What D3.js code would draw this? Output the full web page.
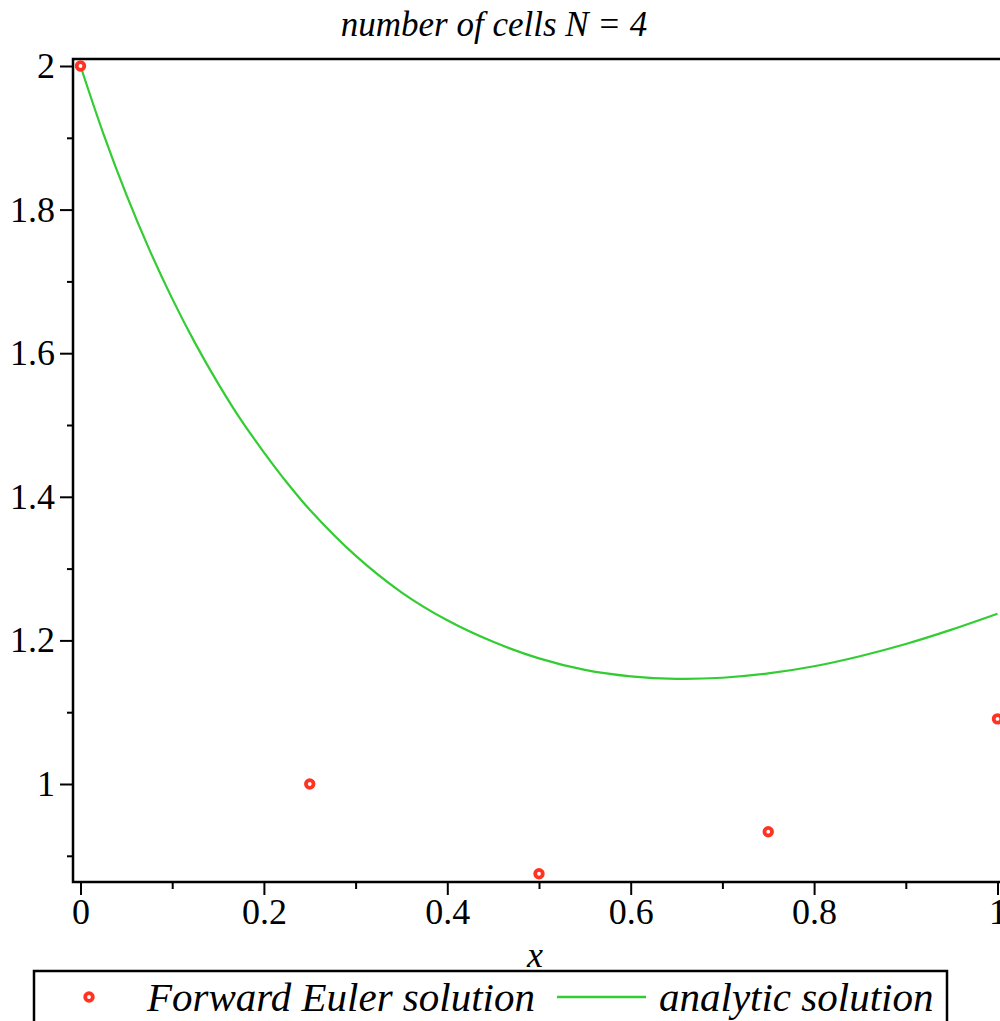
<!DOCTYPE html>
<html>
<head>
<meta charset="utf-8">
<script src="https://cdn.jsdelivr.net/npm/d3@7"></script>
<style>
  body { margin: 0; background: #fff; }
  text { font-family: "Liberation Serif", "Times New Roman", serif; fill: #000; }
</style>
</head>
<body>
<svg id="chart" width="1000" height="1021"></svg>
<script>
const titleText = "number of cells N = 4";
const xLabel = "x";

const eulerX = [0, 0.25, 0.5, 0.75, 1];
const eulerY = [2, 1.0, 0.875, 0.9336, 1.0907];

const exactX = [0, 0.025, 0.05, 0.075, 0.1, 0.125, 0.15, 0.175, 0.2, 0.225, 0.25, 0.3, 0.35, 0.4,
  0.45, 0.5, 0.55, 0.6, 0.65, 0.7, 0.75, 0.8, 0.85, 0.9, 0.95, 1];
const exactY = [2, 1.9055, 1.8208, 1.7446, 1.676, 1.614, 1.558, 1.507, 1.462, 1.420, 1.382, 1.318,
  1.267, 1.228, 1.198, 1.175, 1.159, 1.150, 1.1465, 1.148, 1.154, 1.164, 1.178, 1.195, 1.215, 1.237];

const xMajor = [0, 0.2, 0.4, 0.6, 0.8, 1];
const xMinor = [0.1, 0.3, 0.5, 0.7, 0.9];
const yMajor = [1, 1.2, 1.4, 1.6, 1.8, 2];
const yMinor = [0.9, 1.1, 1.3, 1.5, 1.7, 1.9];

const legendLabels = ["Forward Euler solution", "analytic solution"];

const red = "#ff3322";
const green = "#33cc33";

const frame = { left: 73, top: 59, bottom: 882, right: 1004 };

const svg = d3.select("#chart");

const x = d3.scaleLinear().domain([0, 1]).range([80.5, 997.5]);
const y = d3.scaleLinear().domain([1, 2]).range([784, 66]);

// title
svg.append("text")
  .attr("x", 494)
  .attr("y", 36)
  .attr("text-anchor", "middle")
  .style("font-style", "italic")
  .style("font-size", "35px")
  .text(titleText);

// axes
function addAxis(axis, transform) {
  const g = svg.append("g").attr("transform", transform).call(axis);
  g.select(".domain").remove();
  g.selectAll("line").attr("stroke", "#000").attr("stroke-width", 2);
  return g;
}

const xAxisMajor = addAxis(
  d3.axisBottom(x).tickValues(xMajor).tickSize(13).tickPadding(3).tickFormat(d3.format("")),
  `translate(0, ${frame.bottom})`);
xAxisMajor.selectAll("text").style("font-size", "36px").attr("font-family", null);

addAxis(d3.axisBottom(x).tickValues(xMinor).tickSize(7).tickFormat(""),
  `translate(0, ${frame.bottom})`);

const yAxisMajor = addAxis(
  d3.axisLeft(y).tickValues(yMajor).tickSize(13).tickPadding(5).tickFormat(d3.format("")),
  `translate(${frame.left}, 0)`);
yAxisMajor.selectAll("text").style("font-size", "36px").attr("font-family", null);

addAxis(d3.axisLeft(y).tickValues(yMinor).tickSize(6).tickFormat(""),
  `translate(${frame.left}, 0)`);

// frame
svg.append("path")
  .attr("d", `M${frame.right},${frame.top}H${frame.left}V${frame.bottom}H${frame.right}`)
  .attr("fill", "none")
  .attr("stroke", "#000")
  .attr("stroke-width", 2.5);

// x label
svg.append("text")
  .attr("x", 535)
  .attr("y", 967)
  .attr("text-anchor", "middle")
  .style("font-style", "italic")
  .style("font-size", "36px")
  .text(xLabel);

// analytic curve
const line = d3.line()
  .x(d => x(d[0]))
  .y(d => y(d[1]))
  .curve(d3.curveCatmullRom);

svg.append("path")
  .datum(d3.zip(exactX, exactY))
  .attr("d", line)
  .attr("fill", "none")
  .attr("stroke", green)
  .attr("stroke-width", 2.2);

// euler points
svg.selectAll("circle.euler")
  .data(d3.zip(eulerX, eulerY))
  .enter()
  .append("circle")
  .attr("class", "euler")
  .attr("cx", d => x(d[0]))
  .attr("cy", d => y(d[1]))
  .attr("r", 3.8)
  .attr("fill", "#fff")
  .attr("stroke", red)
  .attr("stroke-width", 3.8);

// legend
const legend = svg.append("g");
legend.append("rect")
  .attr("x", 34)
  .attr("y", 971)
  .attr("width", 913)
  .attr("height", 70)
  .attr("fill", "none")
  .attr("stroke", "#000")
  .attr("stroke-width", 2.5);

legend.append("circle")
  .attr("cx", 89)
  .attr("cy", 997)
  .attr("r", 3.8)
  .attr("fill", "#fff")
  .attr("stroke", red)
  .attr("stroke-width", 3.8);

legend.append("text")
  .attr("x", 147)
  .attr("y", 1011)
  .style("font-style", "italic")
  .style("font-size", "41px")
  .text(legendLabels[0]);

legend.append("line")
  .attr("x1", 557)
  .attr("x2", 646)
  .attr("y1", 997)
  .attr("y2", 997)
  .attr("stroke", green)
  .attr("stroke-width", 2.5);

legend.append("text")
  .attr("x", 659)
  .attr("y", 1011)
  .style("font-style", "italic")
  .style("font-size", "41px")
  .text(legendLabels[1]);
</script>
</body>
</html>
